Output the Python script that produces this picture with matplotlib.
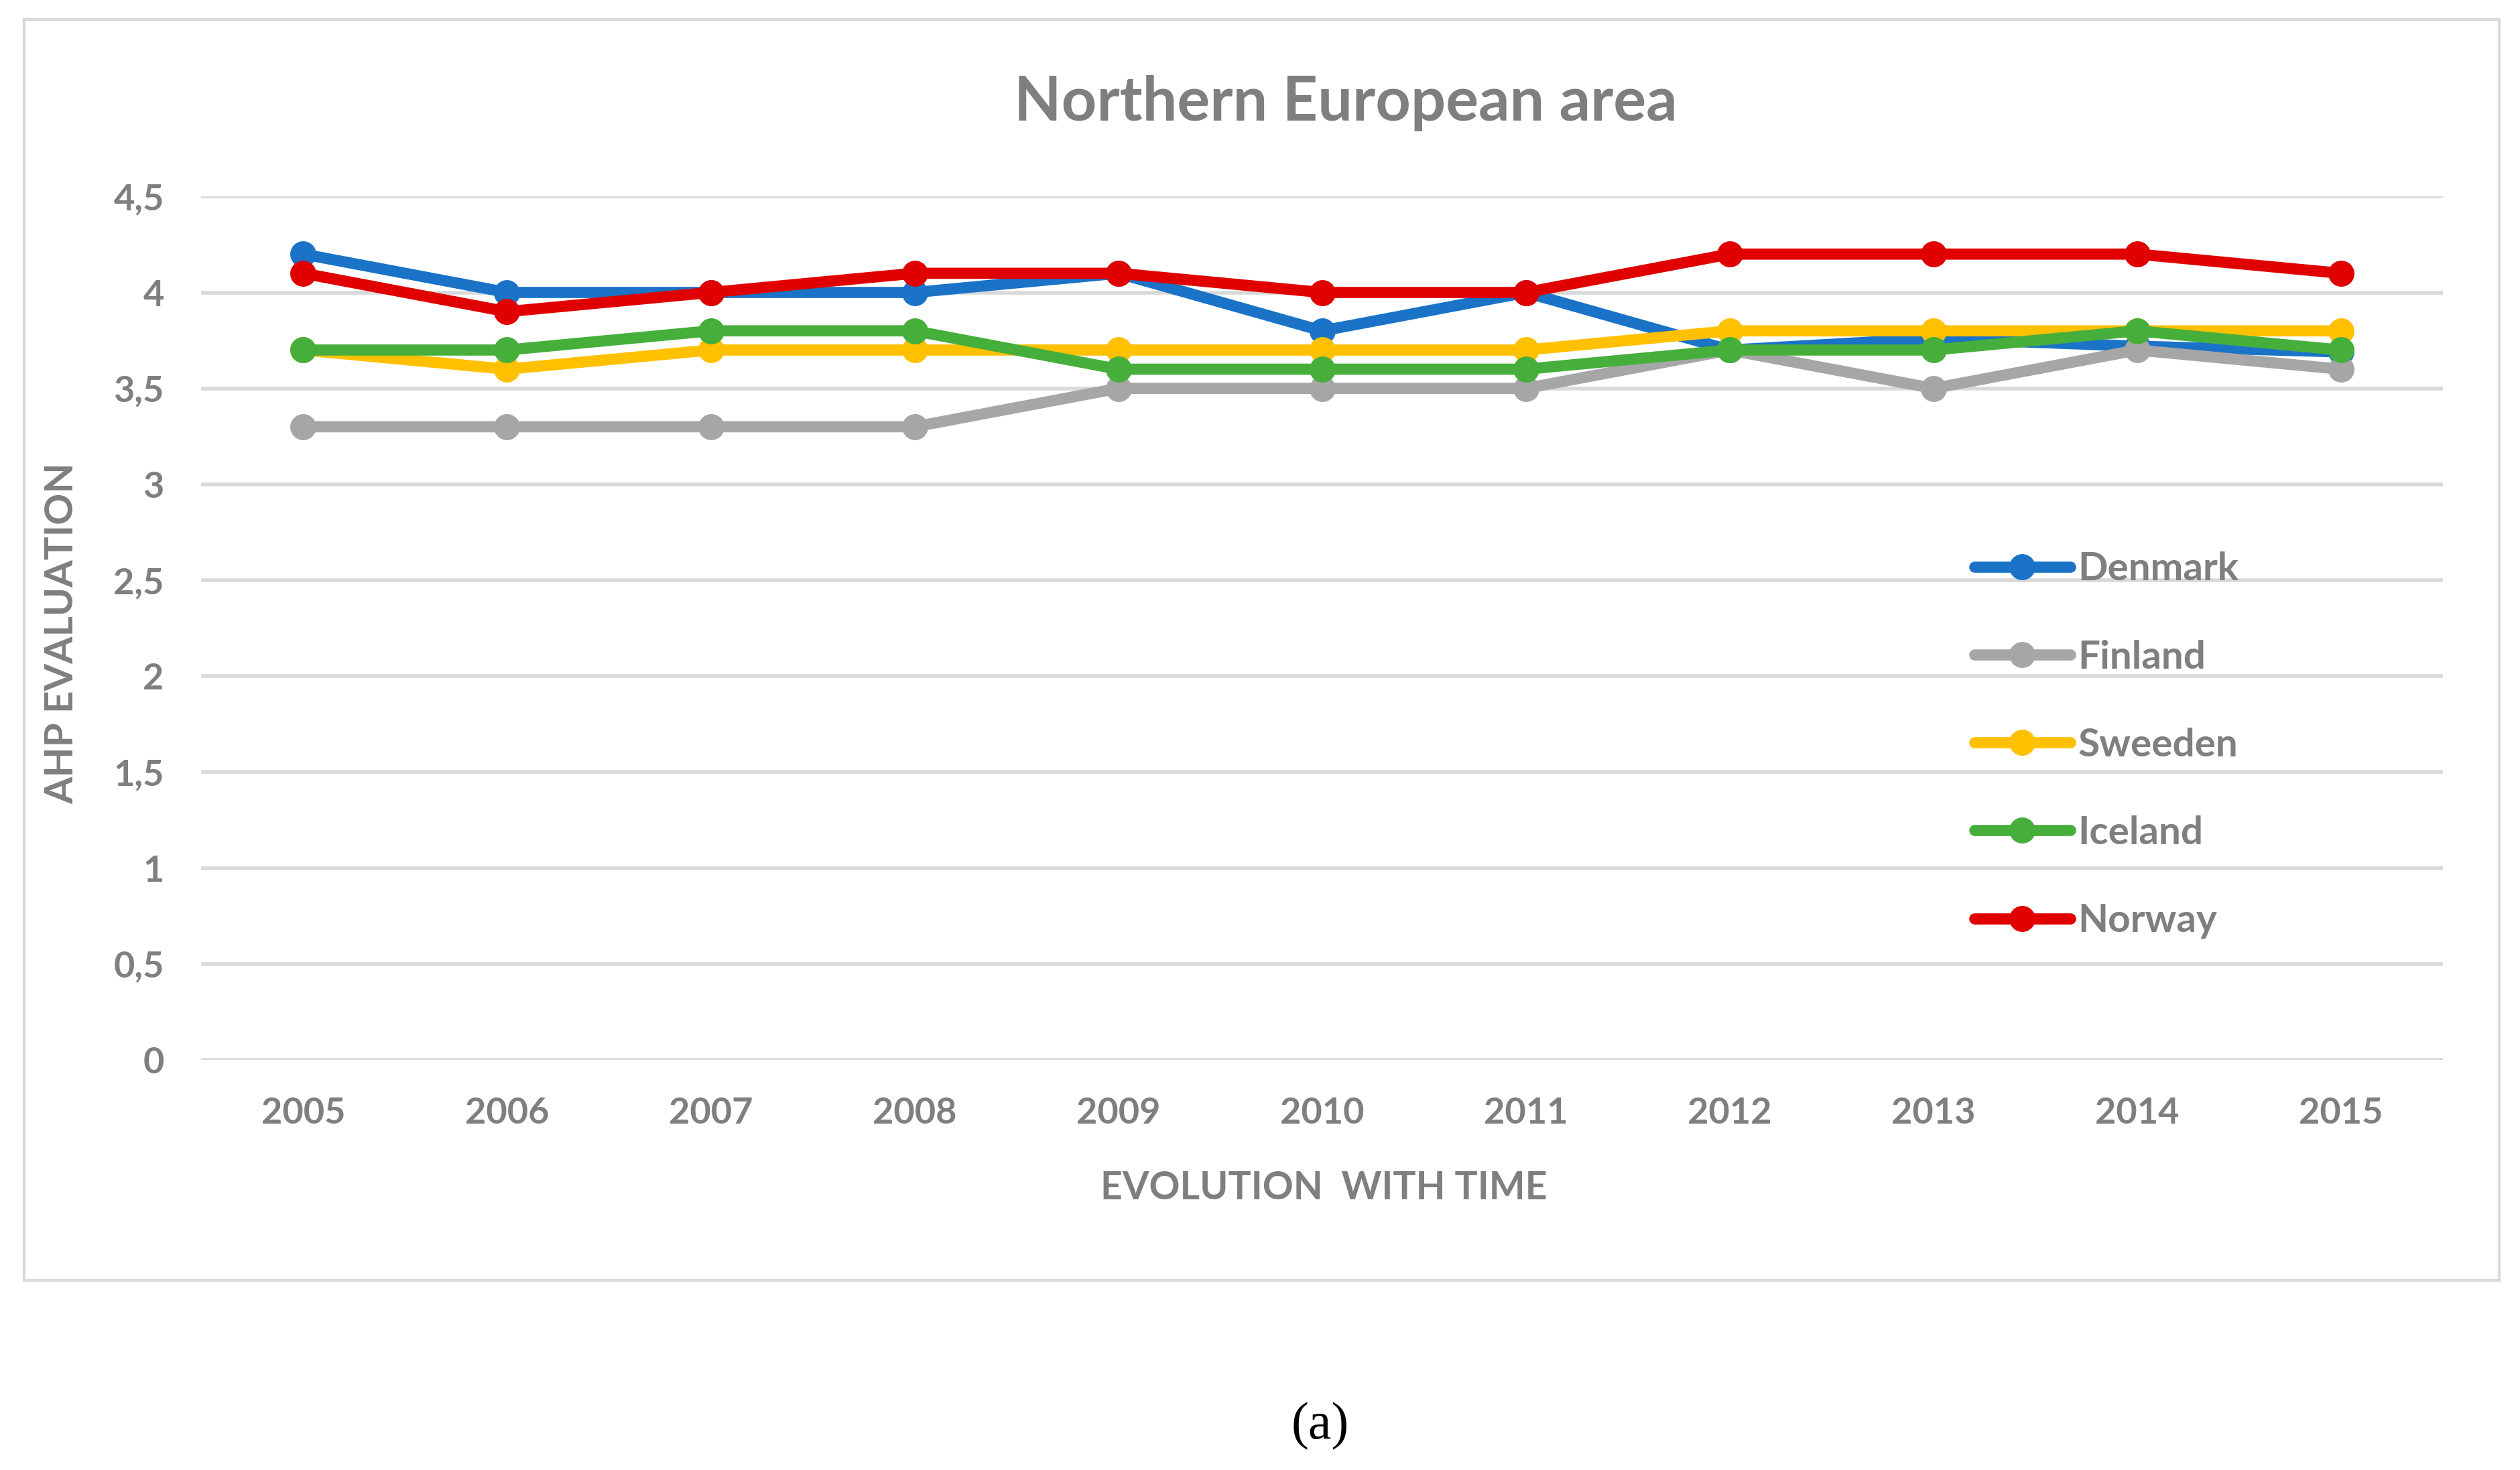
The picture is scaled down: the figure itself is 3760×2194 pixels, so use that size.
import matplotlib
matplotlib.use("Agg")
import matplotlib.pyplot as plt
from matplotlib.patches import Rectangle

years = ["2005", "2006", "2007", "2008", "2009", "2010", "2011", "2012", "2013", "2014", "2015"]
denmark = [4.2, 4.0, 4.0, 4.0, 4.1, 3.8, 4.0, 3.7, 3.76, 3.72, 3.69]
finland = [3.3, 3.3, 3.3, 3.3, 3.5, 3.5, 3.5, 3.7, 3.5, 3.7, 3.6]
sweeden = [3.7, 3.6, 3.7, 3.7, 3.7, 3.7, 3.7, 3.8, 3.8, 3.8, 3.8]
iceland = [3.7, 3.7, 3.8, 3.8, 3.6, 3.6, 3.6, 3.7, 3.7, 3.8, 3.7]
norway = [4.1, 3.9, 4.0, 4.1, 4.1, 4.0, 4.0, 4.2, 4.2, 4.2, 4.1]
yticks = [0, 0.5, 1, 1.5, 2, 2.5, 3, 3.5, 4, 4.5]
ytick_labels = ["0", "0,5", "1", "1,5", "2", "2,5", "3", "3,5", "4", "4,5"]

series = [("Denmark", denmark, "#1a73c7"),
          ("Finland", finland, "#a6a6a6"),
          ("Sweeden", sweeden, "#ffc000"),
          ("Iceland", iceland, "#46af3c"),
          ("Norway", norway, "#e00000")]

txt = "#7f7f7f"
plt.rcParams['font.family'] = ['Lato', 'DejaVu Sans']
plt.rcParams['font.weight'] = 'bold'

fig = plt.figure(figsize=(18.8, 10.97), dpi=200)
ax = fig.add_axes([0.0799, 0.279, 0.8895, 0.5873])

x = list(range(len(years)))
for name, vals, col in series:
    ax.plot(x, vals, color=col, lw=6, marker='o', ms=13, label=name,
            solid_capstyle='round')

ax.set_xlim(-0.5, len(years) - 0.5)
ax.set_ylim(0, 4.5)
ax.set_yticks(yticks)
ax.set_yticklabels(ytick_labels)
ax.set_xticks(x)
ax.set_xticklabels(years)
ax.tick_params(length=0, labelsize=19.5, labelcolor=txt)
ax.tick_params(axis='y', pad=20)
ax.tick_params(axis='x', pad=20)
ax.grid(axis='y', color='#d9d9d9', lw=2)
ax.set_axisbelow(True)
for s in ax.spines.values():
    s.set_visible(False)

ax.set_xlabel("EVOLUTION  WITH TIME", fontsize=20.5, color=txt, fontweight='bold')
ax.set_ylabel("AHP EVALUATION", fontsize=21, color=txt, fontweight='bold')
ax.xaxis.set_label_coords(0.5007, -0.128)
ax.yaxis.set_label_coords(-0.054, 0.494)

leg = ax.legend(loc='center left', bbox_to_anchor=(0.791, 0.3645), frameon=False,
                fontsize=21, labelspacing=1.34, handlelength=2.45, handletextpad=0.2,
                borderpad=0, borderaxespad=0)
for t in leg.get_texts():
    t.set_color(txt)

fig.text(0.534, 0.93, "Northern European area", fontsize=33, color=txt,
         ha='center', va='center', fontweight='bold')

fig.patches.append(Rectangle((0.0096, 0.1289), 0.9821, 0.858, transform=fig.transFigure,
                             fill=False, edgecolor='#d9d9d9', lw=1.5))

fig.text(0.524, 0.030, "(a)", fontsize=28, color='black', ha='center', va='center',
         family='Liberation Serif', fontweight='normal')

fig.savefig("out.png", dpi=200)
